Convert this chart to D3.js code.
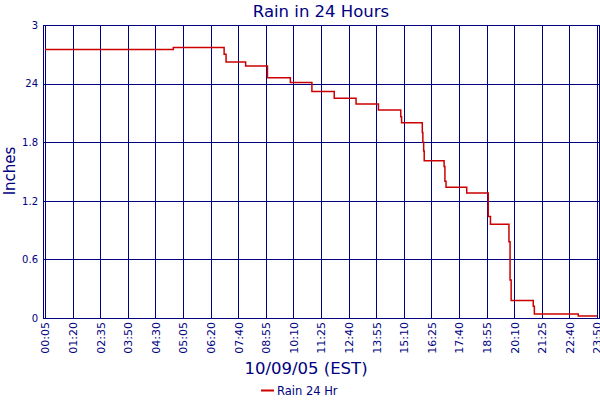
<!DOCTYPE html>
<html>
<head>
<meta charset="utf-8">
<script src="https://cdn.jsdelivr.net/npm/d3@7"></script>
<style>
  body { margin: 0; background: #fff; }
  text { font-family: "DejaVu Sans", Verdana, sans-serif; fill: #000080; }
</style>
</head>
<body>
<svg id="chart" width="600" height="400"></svg>
<script>
// x axis is a category axis: labels sit on evenly spaced slots
const xLabels = ["00:05", "01:20", "02:35", "03:50", "04:30", "05:05", "06:20", "07:40",
  "08:55", "10:10", "11:25", "12:40", "13:55", "15:10", "16:25", "17:40",
  "18:55", "20:10", "21:25", "22:40", "23:50"];

const yTicks = [0, 0.6, 1.2, 1.8, 2.4, 3];
const yTickLabels = ["0", "0.6", "1.2", "1.8", "24", "3"];

// step positions (in label slots) and the running 24 hr total after each step
const rainPos = [0, 4.65, 6.49, 6.56, 7.27, 8.06, 8.89, 9.67, 10.48, 11.27, 12.08,
  12.89, 12.92, 13.67, 13.69, 13.72, 13.74, 14.46, 14.49, 14.53, 15.28,
  16.06, 16.14, 16.81, 16.85, 16.89, 17.69, 17.73, 19.32, 20];
const rainVal = [2.75, 2.77, 2.70, 2.62, 2.58, 2.46, 2.41, 2.32, 2.25, 2.19, 2.13,
  2.06, 2.00, 1.90, 1.80, 1.71, 1.61, 1.55, 1.40, 1.34, 1.28,
  1.04, 0.96, 0.78, 0.39, 0.18, 0.12, 0.04, 0.02, 0.02];

const svg = d3.select("#chart");
const frame = { left: 43, right: 599, top: 25, bottom: 318 };
const navy = "#000080";

const x = d3.scaleLinear().domain([0, xLabels.length - 1]).range([45, 597]);
const y = d3.scaleLinear().domain([0, 3]).range([frame.bottom, frame.top]);

// grid
const grid = svg.append("g").attr("shape-rendering", "crispEdges").attr("stroke", navy);
grid.selectAll("line.h").data(yTicks).join("line")
  .attr("class", "h")
  .attr("x1", frame.left).attr("x2", frame.right)
  .attr("y1", d => Math.round(y(d)) + 0.5).attr("y2", d => Math.round(y(d)) + 0.5);
grid.selectAll("line.v").data(d3.range(xLabels.length)).join("line")
  .attr("class", "v")
  .attr("x1", d => Math.round(x(d)) + 0.5).attr("x2", d => Math.round(x(d)) + 0.5)
  .attr("y1", frame.top).attr("y2", frame.bottom);
grid.append("rect")
  .attr("x", frame.left + 0.5).attr("y", frame.top + 0.5)
  .attr("width", frame.right - frame.left).attr("height", frame.bottom - frame.top)
  .attr("fill", "none");

// axes
const yAxis = svg.append("g")
  .attr("transform", `translate(${frame.left},0)`)
  .call(d3.axisLeft(y).tickValues(yTicks).tickSize(0).tickPadding(5)
    .tickFormat((d, i) => yTickLabels[i]));
yAxis.select(".domain").remove();
yAxis.selectAll("text").style("font-size", "10px").attr("fill", navy);

const xAxis = svg.append("g")
  .attr("transform", `translate(0,${frame.bottom})`)
  .call(d3.axisBottom(x).tickValues(d3.range(xLabels.length)).tickSize(0)
    .tickFormat(i => xLabels[i]));
xAxis.select(".domain").remove();
xAxis.selectAll("text")
  .style("font-size", "11px")
  .attr("fill", navy)
  .attr("text-anchor", "end")
  .attr("transform", "rotate(-90)")
  .attr("x", -4)
  .attr("y", 0)
  .attr("dy", "0.35em");

// rain line
const rain = rainPos.map((p, i) => [p, rainVal[i]]);
const line = d3.line()
  .x(d => x(d[0]))
  .y(d => y(d[1]))
  .curve(d3.curveStepAfter);
svg.append("path")
  .datum(rain)
  .attr("d", line)
  .attr("fill", "none")
  .attr("stroke", "#cc0000")
  .attr("stroke-width", 1.5);

// titles
svg.append("text").attr("x", 321).attr("y", 17)
  .attr("text-anchor", "middle").style("font-size", "16.5px")
  .text("Rain in 24 Hours");
svg.append("text").attr("x", 306).attr("y", 374)
  .attr("text-anchor", "middle").style("font-size", "16.5px")
  .text("10/09/05 (EST)");
svg.append("text")
  .attr("transform", "translate(15,171) rotate(-90)")
  .attr("text-anchor", "middle").style("font-size", "15px")
  .text("Inches");

// legend
svg.append("line")
  .attr("x1", 261).attr("x2", 274).attr("y1", 390.5).attr("y2", 390.5)
  .attr("stroke", "#cc0000").attr("stroke-width", 2);
svg.append("text").attr("x", 277).attr("y", 395)
  .style("font-size", "11.5px").text("Rain 24 Hr");
</script>
</body>
</html>
